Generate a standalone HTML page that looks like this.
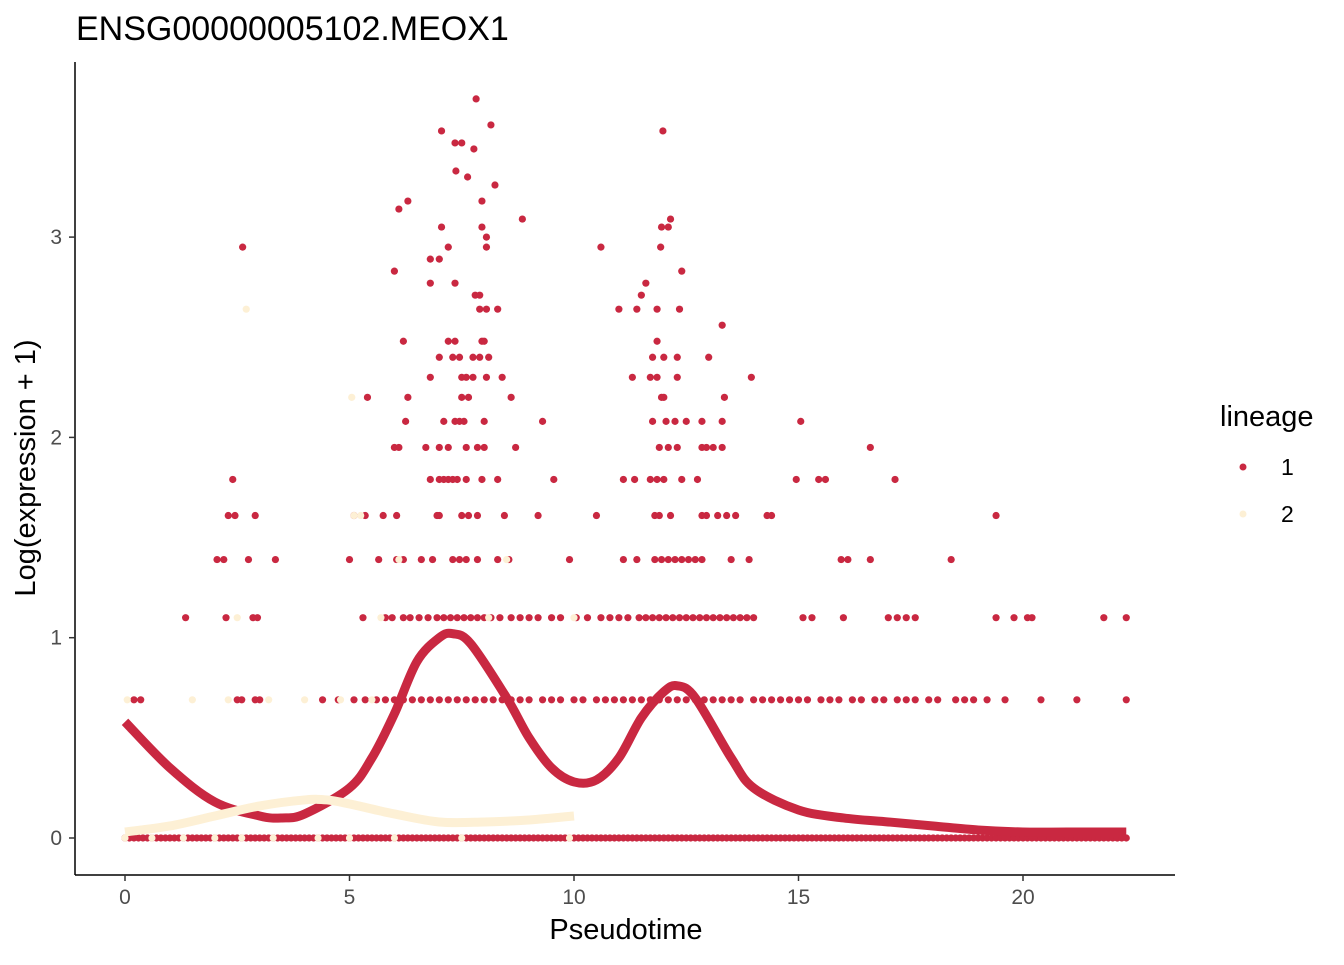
<!DOCTYPE html>
<html><head><meta charset="utf-8"><style>
body{margin:0;background:#fff}
svg text{font-family:"Liberation Sans",sans-serif}
</style></head><body>
<svg id="c" width="1344" height="960">
<text x="76" y="40" font-size="34" fill="#000">ENSG00000005102.MEOX1</text>
<g id="pts"></g>
<g id="curves"></g>
<line x1="75" y1="62" x2="75" y2="875" stroke="#000" stroke-width="1.5"/>
<line x1="75" y1="875" x2="1175" y2="875" stroke="#000" stroke-width="1.5"/>
<g id="axes"></g>
<text x="626" y="939" font-size="29" text-anchor="middle">Pseudotime</text>
<text transform="translate(35,468) rotate(-90)" font-size="29" text-anchor="middle">Log(expression + 1)</text>
<g>
<text x="1220" y="426" font-size="29">lineage</text>
<circle cx="1243" cy="467" r="3.5" fill="#c92841"/>
<text x="1281" y="475" font-size="23">1</text>
<circle cx="1243" cy="514" r="3.5" fill="#fdf0d5"/>
<text x="1281" y="522" font-size="23">2</text>
</g>
</svg>
<script>
const xTicks=[0,5,10,15,20];
const yTicks=[0,1,2,3];
// lineage 1 scattered points [x,y]
const l1Points=[[7.82,3.69],[8.15,3.56],[7.05,3.53],[11.98,3.53],[7.35,3.47],[7.5,3.47],[7.77,3.44],[7.37,3.33],[7.63,3.3],[8.24,3.26],[6.3,3.18],[6.1,3.14],[7.95,3.18],[8.85,3.09],[12.15,3.09],[7.05,3.05],[7.95,3.05],[8.05,3.0],[2.62,2.95],[7.2,2.95],[8.05,2.95],[11.93,2.95],[10.6,2.95],[11.95,3.05],[12.1,3.05],[6.8,2.89],[7.0,2.89],[6.0,2.83],[12.4,2.83],[6.8,2.77],[7.35,2.77],[11.6,2.77],[7.8,2.71],[7.9,2.71],[11.5,2.71],[6.2,2.48],[8.3,2.64],[7.9,2.64],[8.05,2.64],[11.0,2.64],[11.4,2.64],[11.85,2.64],[12.35,2.64],[13.3,2.56],[7.2,2.48],[7.35,2.48],[7.95,2.48],[8.0,2.48],[11.85,2.48],[7.0,2.4],[7.3,2.4],[7.45,2.4],[7.75,2.4],[7.9,2.4],[8.1,2.4],[11.75,2.4],[12.0,2.4],[12.3,2.4],[13.0,2.4],[6.8,2.3],[7.5,2.3],[7.6,2.3],[7.75,2.3],[8.05,2.3],[8.4,2.3],[11.3,2.3],[11.7,2.3],[11.85,2.3],[12.3,2.3],[13.95,2.3],[5.4,2.2],[6.3,2.2],[7.5,2.2],[7.65,2.2],[8.6,2.2],[11.95,2.2],[12.0,2.2],[13.35,2.2],[6.25,2.08],[7.1,2.08],[7.35,2.08],[7.45,2.08],[7.55,2.08],[8.0,2.08],[9.3,2.08],[11.75,2.08],[12.05,2.08],[12.25,2.08],[12.5,2.08],[12.85,2.08],[13.3,2.08],[15.05,2.08],[6.0,1.95],[6.1,1.95],[6.7,1.95],[7.0,1.95],[7.2,1.95],[7.6,1.95],[7.85,1.95],[8.0,1.95],[8.7,1.95],[11.9,1.95],[12.1,1.95],[12.3,1.95],[12.85,1.95],[12.95,1.95],[13.1,1.95],[13.3,1.95],[16.6,1.95],[2.4,1.79],[6.8,1.79],[7.0,1.79],[7.1,1.79],[7.2,1.79],[7.3,1.79],[7.4,1.79],[7.6,1.79],[7.95,1.79],[8.3,1.79],[9.55,1.79],[11.1,1.79],[11.35,1.79],[11.7,1.79],[11.85,1.79],[12.0,1.79],[12.4,1.79],[12.75,1.79],[14.95,1.79],[15.45,1.79],[15.6,1.79],[17.15,1.79],[2.3,1.61],[2.45,1.61],[2.9,1.61],[5.1,1.61],[5.35,1.61],[5.75,1.61],[6.05,1.61],[6.95,1.61],[7.0,1.61],[7.5,1.61],[7.65,1.61],[7.85,1.61],[8.45,1.61],[9.2,1.61],[10.5,1.61],[11.8,1.61],[11.9,1.61],[12.15,1.61],[12.85,1.61],[12.95,1.61],[13.2,1.61],[13.4,1.61],[13.6,1.61],[14.3,1.61],[14.4,1.61],[19.4,1.61],[2.05,1.39],[2.2,1.39],[2.75,1.39],[3.35,1.39],[5.0,1.39],[5.65,1.39],[6.05,1.39],[6.2,1.39],[6.6,1.39],[6.85,1.39],[7.3,1.39],[7.45,1.39],[7.6,1.39],[7.85,1.39],[8.3,1.39],[8.55,1.39],[9.9,1.39],[11.1,1.39],[11.4,1.39],[11.8,1.39],[11.95,1.39],[12.1,1.39],[12.25,1.39],[12.4,1.39],[12.55,1.39],[12.7,1.39],[12.85,1.39],[13.5,1.39],[13.9,1.39],[15.95,1.39],[16.1,1.39],[16.6,1.39],[18.4,1.39]];
// lineage 1 dense rows: x values at y=1.1, 0.69, 0
const l1Row110=[1.35,2.25,2.85,2.95,5.3,5.8,5.95,6.2,6.35,6.55,6.75,6.95,7.1,7.25,7.4,7.55,7.7,7.85,8.0,8.15,8.35,8.6,8.8,9.0,9.2,9.5,9.7,10.05,10.3,10.6,10.8,11.0,11.2,11.45,11.6,11.75,11.9,12.05,12.2,12.35,12.5,12.65,12.8,12.95,13.1,13.25,13.4,13.55,13.7,13.85,14.0,15.1,15.3,16.0,17.0,17.2,17.4,17.6,19.4,19.8,20.1,20.2,21.8,22.3];
const l1Row069=[0.2,0.35,2.5,2.6,2.9,3.0,4.4,4.75,5.1,5.35,5.6,5.8,6.0,6.2,6.4,6.6,6.8,7.0,7.2,7.4,7.6,7.8,8.0,8.2,8.4,8.6,8.8,9.0,9.3,9.5,9.7,10.0,10.2,10.5,10.7,10.9,11.1,11.3,11.5,11.7,11.9,12.1,12.3,12.5,12.7,12.9,13.1,13.3,13.5,13.7,14.0,14.2,14.4,14.6,14.8,15.0,15.2,15.5,15.7,15.9,16.2,16.4,16.7,16.9,17.2,17.4,17.6,17.9,18.1,18.5,18.7,18.9,19.2,19.6,20.4,21.2,22.3];
const l1Row000=[0,0.3,0.6,0.9,1.2,1.5,1.8,2.1,2.4,2.7,3.0,3.3,3.6,3.9,4.2,4.5,4.8,5.1,5.4,5.7,6.0,6.3,6.6,6.9,7.2,7.5,7.8,8.1,8.4,8.7,9.0,9.3,9.6,9.9,10.2,10.5,10.8,11.1,11.4,11.7,12.0,12.3,12.6,12.9,13.2,13.5,13.8,14.1,14.4,14.7,15.0,15.3,15.6,15.9,16.2,16.5,16.8,17.1,17.4,17.7,18.0,18.3,18.6,18.9,19.2,19.5,19.8,20.1,20.4,20.7,21.0,21.3,21.6,21.9,22.1];
// lineage 2 points
const l2Points=[[2.7,2.64],[5.05,2.2],[5.1,1.61],[5.25,1.61],[6.1,1.39],[8.5,1.39],[5.7,1.1],[10.0,1.1],[2.5,1.1],[0.05,0.69],[1.5,0.69],[2.3,0.69],[3.2,0.69],[4.0,0.69],[4.8,0.69],[5.5,0.69],[8.1,1.1],[0,0],[0.6,0],[1.3,0],[2.0,0],[2.6,0],[3.3,0],[4.3,0],[5.0,0],[6.0,0],[7.5,0],[9.9,0]];
// smoother fits
const l1CurveX=[0,1,2,3,3.5,4,5,5.5,6,6.5,7,7.3,7.7,8.5,9,9.5,10,10.5,11,11.5,12,12.3,12.7,13.5,14,15,16,17,18,19,20,21,22.3];
const l1CurveY=[0.58,0.35,0.18,0.11,0.1,0.12,0.25,0.4,0.62,0.88,1.0,1.02,0.97,0.7,0.5,0.35,0.28,0.29,0.4,0.6,0.73,0.76,0.7,0.4,0.25,0.14,0.1,0.08,0.06,0.04,0.03,0.03,0.03];
const l2CurveX=[0,1,2,3,4,4.5,5,6,7,8,9,10];
const l2CurveY=[0.03,0.06,0.11,0.16,0.19,0.19,0.17,0.12,0.08,0.08,0.09,0.11];

const sx=v=>125+v*44.9, sy=v=>838-v*200.3;
const NS='http://www.w3.org/2000/svg';
const pts=document.getElementById('pts'), ax=document.getElementById('axes'), cv=document.getElementById('curves');
const RED='#c92841', CREAM='#fdf0d5';
function dot(x,y,fill,name){
  const c=document.createElementNS(NS,'circle');
  c.setAttribute('cx',sx(x));c.setAttribute('cy',sy(y));c.setAttribute('r',3.6);c.setAttribute('fill',fill);
  
  
  pts.appendChild(c);
}
l1Points.forEach(p=>dot(p[0],p[1],RED,'point-lineage-1'));
l1Row110.forEach(x=>dot(x,1.1,RED,'point-lineage-1'));
l1Row069.forEach(x=>dot(x,0.69,RED,'point-lineage-1'));
l1Row000.forEach(x=>{for(let k=0;k<3;k++)dot(x+k*0.1,0,RED,'point-lineage-1');});
l2Points.forEach(p=>dot(p[0],p[1],CREAM,'point-lineage-2'));
function curve(xs,ys,col,name){
  const P=xs.map((x,i)=>[sx(x),sy(ys[i])]);
  let d='M'+P[0][0]+','+P[0][1];
  for(let i=0;i<P.length-1;i++){
    const p0=P[i-1]||P[i],p1=P[i],p2=P[i+1],p3=P[i+2]||P[i+1];
    const c1=[p1[0]+(p2[0]-p0[0])/6,p1[1]+(p2[1]-p0[1])/6];
    const c2=[p2[0]-(p3[0]-p1[0])/6,p2[1]-(p3[1]-p1[1])/6];
    d+='C'+c1+' '+c2+' '+p2;
  }
  const p=document.createElementNS(NS,'path');
  p.setAttribute('d',d);
  p.setAttribute('fill','none');p.setAttribute('stroke',col);p.setAttribute('stroke-width',9);p.setAttribute('stroke-linejoin','round');
  
  
  cv.appendChild(p);
}
curve(l1CurveX,l1CurveY,RED,'smoother-lineage-1');
curve(l2CurveX,l2CurveY,CREAM,'smoother-lineage-2');
xTicks.forEach(t=>{
  const l=document.createElementNS(NS,'line');
  l.setAttribute('x1',sx(t));l.setAttribute('x2',sx(t));l.setAttribute('y1',875);l.setAttribute('y2',881);l.setAttribute('stroke','#333');l.setAttribute('stroke-width',1.5);
  
  
  ax.appendChild(l);
  const tx=document.createElementNS(NS,'text');
  tx.setAttribute('x',sx(t));tx.setAttribute('y',904);tx.setAttribute('text-anchor','middle');tx.setAttribute('font-size','21');tx.setAttribute('fill','#4d4d4d');tx.textContent=t;
  
  
  ax.appendChild(tx);
});
yTicks.forEach(t=>{
  const l=document.createElementNS(NS,'line');
  l.setAttribute('x1',69);l.setAttribute('x2',75);l.setAttribute('y1',sy(t));l.setAttribute('y2',sy(t));l.setAttribute('stroke','#333');l.setAttribute('stroke-width',1.5);
  
  
  ax.appendChild(l);
  const tx=document.createElementNS(NS,'text');
  tx.setAttribute('x',62);tx.setAttribute('y',sy(t)+7);tx.setAttribute('text-anchor','end');tx.setAttribute('font-size','21');tx.setAttribute('fill','#4d4d4d');tx.textContent=t;
  
  
  ax.appendChild(tx);
});
</script>
</body></html>
